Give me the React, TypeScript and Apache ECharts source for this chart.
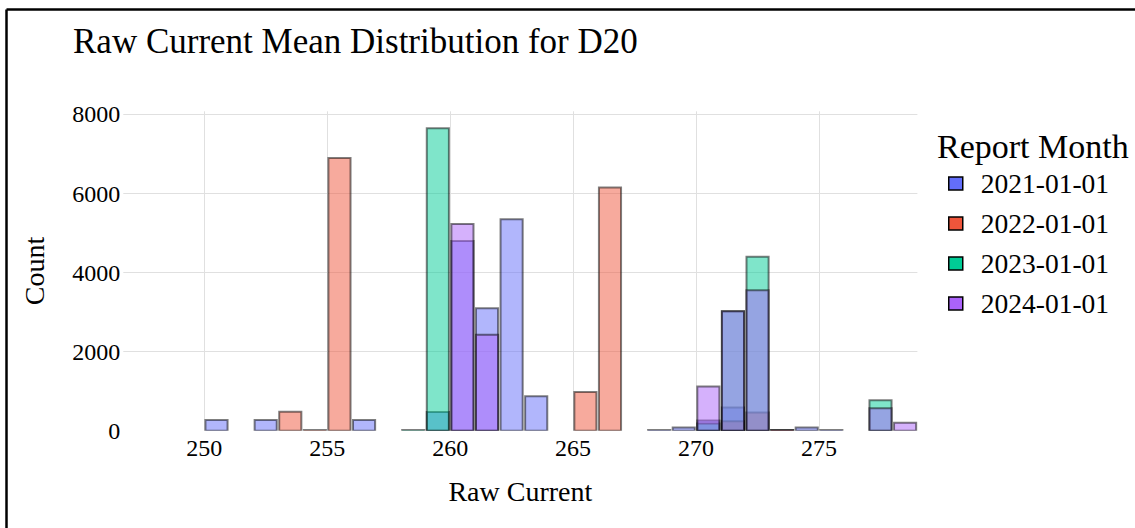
import React, { useEffect, useRef } from "react";
import * as echarts from "echarts";

const TITLE = "Raw Current Mean Distribution for D20";
const X_NAME = "Raw Current";
const Y_NAME = "Count";
const LEGEND_TITLE = "Report Month";
const SERIES_NAMES = ["2021-01-01", "2022-01-01", "2023-01-01", "2024-01-01"];
const COLORS = ["#636efa", "#EF553B", "#00cc96", "#ab63fa"];

// histogram bin starts (bin width 1)
const BIN_STARTS = [
  250, 251, 252, 253, 254, 255, 256, 257, 258, 259,
  260, 261, 262, 263, 264, 265, 266, 267, 268, 269,
  270, 271, 272, 273, 274, 275, 276, 277, 278,
];

// counts per bin, aligned with BIN_STARTS
const COUNTS_2021 = [
  270, 0, 270, 0, 0, 0, 270, 0, 0, 470,
  4800, 3100, 5350, 870, 0, 0, 0, 0, 15, 80,
  260, 585, 0, 15, 80, 15, 0, 0, 0,
];
const COUNTS_2022 = [
  0, 0, 0, 480, 15, 6900, 0, 0, 0, 0,
  0, 0, 0, 0, 0, 980, 6150, 0, 0, 0,
  0, 240, 460, 15, 0, 0, 0, 0, 0,
];
const COUNTS_2023 = [
  0, 0, 0, 0, 0, 0, 0, 0, 15, 7650,
  0, 0, 0, 0, 0, 0, 0, 0, 0, 0,
  185, 3020, 4400, 0, 0, 0, 0, 770, 0,
];
const COUNTS_2024 = [
  0, 0, 0, 0, 0, 0, 0, 0, 0, 0,
  5230, 2430, 0, 0, 0, 0, 0, 0, 0, 0,
  1120, 3020, 3550, 0, 0, 0, 0, 570, 200,
];
const ALL_COUNTS = [COUNTS_2021, COUNTS_2022, COUNTS_2023, COUNTS_2024];

const X_TICKS = [250, 255, 260, 265, 270, 275];
const Y_TICKS = [0, 2000, 4000, 6000, 8000];

const FONT = "Liberation Serif";
const BAR_PAD = 0.05;

export default function App() {
  const ref = useRef<HTMLDivElement>(null);

  useEffect(() => {
    if (!ref.current) return;
    const chart = echarts.init(ref.current, undefined, { renderer: "svg" });

    const option: any = {
      animation: false,
      backgroundColor: "#ffffff",
      title: {
        text: TITLE,
        left: 73,
        top: 24,
        padding: 0,
        textStyle: { fontFamily: FONT, fontSize: 35, fontWeight: "normal", color: "#000" },
      },
      grid: { left: 123.3, right: 1135 - 917.4, top: 111.3, bottom: 528 - 430.7, containLabel: false },
      xAxis: {
        type: "value",
        min: 246.71,
        max: 279,
        name: X_NAME,
        nameLocation: "middle",
        nameGap: 47,
        nameTextStyle: { fontFamily: FONT, fontSize: 28, color: "#000" },
        axisLine: { show: false },
        axisTick: { show: false, customValues: X_TICKS },
        axisLabel: {
          customValues: X_TICKS,
          formatter: (v: number) => String(v),
          fontFamily: FONT,
          fontSize: 24,
          color: "#000",
          margin: 5,
        },
        splitLine: { show: true, lineStyle: { color: "#e0e0e0", width: 1 } },
      },
      yAxis: {
        type: "value",
        min: 0,
        max: 8080,
        name: Y_NAME,
        nameLocation: "middle",
        nameGap: 75,
        nameTextStyle: { fontFamily: FONT, fontSize: 28, color: "#000" },
        axisLine: { show: false },
        axisTick: { show: false, customValues: Y_TICKS },
        axisLabel: {
          customValues: Y_TICKS,
          formatter: (v: number) => String(v),
          fontFamily: FONT,
          fontSize: 24,
          color: "#000",
          margin: 3,
        },
        splitLine: { show: true, showMinLine: false, lineStyle: { color: "#e0e0e0", width: 1 } },
      },
      legend: {
        orient: "vertical",
        left: 948,
        top: 169.5,
        padding: 0,
        itemWidth: 14,
        itemHeight: 13,
        itemGap: 12,
        icon: "rect",
        textStyle: { fontFamily: FONT, fontSize: 27.5, color: "#000", lineHeight: 27, padding: [0, 0, 0, 13] },
        itemStyle: { borderColor: "#000", borderWidth: 1.5 },
        data: SERIES_NAMES,
      },
      graphic: [
        {
          type: "text",
          x: 937,
          y: 146,
          style: { text: LEGEND_TITLE, fontFamily: FONT, fontSize: 34, fill: "#000", verticalAlign: "middle", align: "left" },
        },
        { type: "line", shape: { x1: 6.5, y1: 9.5, x2: 1135, y2: 9.5 }, style: { stroke: "#000", lineWidth: 2.5 } },
        { type: "line", shape: { x1: 6.5, y1: 9.5, x2: 6.5, y2: 528 }, style: { stroke: "#000", lineWidth: 2.5 } },
      ],
      series: SERIES_NAMES.map((name, si) => ({
        type: "custom",
        name,
        data: BIN_STARTS.map((b, i) => [b, ALL_COUNTS[si][i]]),
        encode: { x: 0, y: 1 },
        itemStyle: { color: COLORS[si] },
        clip: true,
        renderItem: (params: any, api: any) => {
          const v = api.value(1);
          if (!v) return null;
          const b = api.value(0);
          const tl = api.coord([b + BAR_PAD, v]);
          const br = api.coord([b + 1 - BAR_PAD, 0]);
          return {
            type: "rect",
            shape: { x: tl[0], y: tl[1], width: br[0] - tl[0], height: br[1] - tl[1] },
            style: { fill: COLORS[si], stroke: "#000", lineWidth: 2, opacity: 0.5 },
          };
        },
      })),
    };

    chart.setOption(option);
    return () => chart.dispose();
  }, []);

  return (
    <div
      ref={ref}
      style={{ position: "fixed", left: 0, top: 0, width: 1135, height: 528, background: "#fff" }}
    />
  );
}
